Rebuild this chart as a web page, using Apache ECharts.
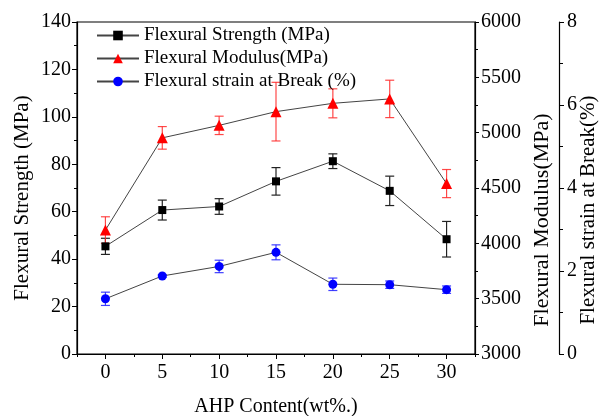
<!DOCTYPE html>
<html>
<head>
<meta charset="utf-8">
<script src="https://cdn.jsdelivr.net/npm/echarts@6/dist/echarts.min.js"></script>
<style>html,body{margin:0;padding:0;background:#fff;}#c{width:600px;height:416px;}</style>
</head>
<body>
<div id="c"></div>
<script>
const xValues = [0, 5, 10, 15, 20, 25, 30];
const xMajorTicks = [0, 5, 10, 15, 20, 25, 30];
const xMinorTicks = [-2.5, 2.5, 7.5, 12.5, 17.5, 22.5, 27.5, 32.5];
const strength = [45.4, 60.7, 62.2, 72.8, 81.3, 68.8, 48.4];
const strengthErr = [3.4, 4.2, 3.3, 5.8, 3.1, 6.2, 7.5];
const modulus = [4120, 4953, 5066, 5190, 5265, 5305, 4540];
const modulusErr = [120, 102, 83, 265, 131, 169, 127];
const strain = [1.33, 1.88, 2.11, 2.45, 1.68, 1.67, 1.55];
const strainErr = [0.16, 0.03, 0.15, 0.18, 0.15, 0.09, 0.09];
const seriesNames = ['Flexural Strength (MPa)', 'Flexural Modulus(MPa)', 'Flexural strain at Break (%)'];

const FONT = "'Liberation Serif', 'Times New Roman', serif";
const chart = echarts.init(document.getElementById('c'), null, {renderer: 'canvas'});

function errBar(color) {
  return function (params, api) {
    const x = api.value(0);
    const p1 = api.coord([x, api.value(1)]);
    const p2 = api.coord([x, api.value(2)]);
    const w = 4.5;
    const st = {stroke: color, lineWidth: 1.2};
    return {type: 'group', children: [
      {type: 'line', shape: {x1: p1[0], y1: p1[1], x2: p2[0], y2: p2[1]}, style: st},
      {type: 'line', shape: {x1: p1[0] - w, y1: p1[1], x2: p1[0] + w, y2: p1[1]}, style: st},
      {type: 'line', shape: {x1: p2[0] - w, y1: p2[1], x2: p2[0] + w, y2: p2[1]}, style: st}
    ]};
  };
}
function errData(vals, errs) { return xValues.map((x, i) => [x, vals[i] - errs[i], vals[i] + errs[i]]); }
function pts(vals) { return xValues.map((x, i) => [x, vals[i]]); }
const plain = v => String(v);

const axisLine = {show: true, onZero: false, lineStyle: {color: '#000', width: 1.2}};
function lbl(extra) { return Object.assign({color: '#000', fontFamily: FONT, fontSize: 20, formatter: plain}, extra); }
function nm(size, shift) { return {color: '#000', fontFamily: FONT, fontSize: size, padding: [0, shift, 0, 0]}; }

const option = {
  animation: false,
  backgroundColor: '#fff',
  grid: {left: 77, right: 125, top: 22, bottom: 62, show: true, borderColor: '#000', borderWidth: 1.2,
         containLabel: false, outerBoundsMode: 'none'},
  legend: {
    orient: 'vertical', left: 91, top: 21, itemWidth: 42, itemHeight: 12, itemGap: 4,
    textStyle: {color: '#000', fontFamily: FONT, fontSize: 19},
    data: seriesNames
  },
  xAxis: [
    {type: 'value', min: -2.5, max: 32.5, position: 'bottom',
     name: 'AHP Content(wt%.)', nameLocation: 'middle', nameGap: 43, nameTextStyle: nm(20, 0),
     axisLine: axisLine, splitLine: {show: false},
     axisTick: {show: true, length: 5, inside: false, customValues: xMajorTicks, lineStyle: {color: '#000'}},
     axisLabel: lbl({margin: 9, customValues: xMajorTicks})},
    {type: 'value', min: -2.5, max: 32.5, position: 'bottom',
     axisLine: {show: false, onZero: false}, splitLine: {show: false},
     axisTick: {show: true, length: 3, customValues: xMinorTicks, lineStyle: {color: '#000'}},
     axisLabel: {show: false}}
  ],
  yAxis: [
    {type: 'value', min: 0, max: 140, interval: 20, position: 'left',
     name: 'Flexural Strength (MPa)', nameLocation: 'middle', nameGap: 44, nameRotate: 90, nameTextStyle: nm(21, 20),
     nameMoveOverlap: false,
     axisLine: axisLine, splitLine: {show: false},
     axisTick: {show: true, length: 5, lineStyle: {color: '#000'}},
     minorTick: {show: true, splitNumber: 2, length: 3, lineStyle: {color: '#000'}},
     axisLabel: lbl({margin: 6})},
    {type: 'value', min: 3000, max: 6000, interval: 500, position: 'right', offset: 0,
     name: 'Flexural Modulus(MPa)', nameLocation: 'middle', nameGap: 56, nameRotate: 90, nameTextStyle: nm(22, 64),
     nameMoveOverlap: false,
     axisLine: axisLine, splitLine: {show: false},
     axisTick: {show: true, length: 4, lineStyle: {color: '#000'}},
     minorTick: {show: true, splitNumber: 2, length: 3, lineStyle: {color: '#000'}},
     axisLabel: lbl({margin: 6})},
    {type: 'value', min: 0, max: 8, interval: 2, position: 'right', offset: 84,
     name: 'Flexural strain at Break(%)', nameLocation: 'middle', nameGap: 19, nameRotate: 90, nameTextStyle: nm(21, 44),
     nameMoveOverlap: false,
     axisLine: axisLine, splitLine: {show: false},
     axisTick: {show: true, length: 5, lineStyle: {color: '#000'}},
     minorTick: {show: true, splitNumber: 2, length: 4, lineStyle: {color: '#000'}},
     axisLabel: lbl({margin: 8})}
  ],
  series: [
    {type: 'custom', name: 'errS', xAxisIndex: 0, yAxisIndex: 0, z: 1, renderItem: errBar('#222'), encode: {x: 0, y: [1, 2]}, data: errData(strength, strengthErr), silent: true},
    {type: 'custom', name: 'errM', xAxisIndex: 0, yAxisIndex: 1, z: 1, renderItem: errBar('rgba(255,40,40,0.85)'), encode: {x: 0, y: [1, 2]}, data: errData(modulus, modulusErr), silent: true},
    {type: 'custom', name: 'errE', xAxisIndex: 0, yAxisIndex: 2, z: 1, renderItem: errBar('rgba(30,30,255,0.85)'), encode: {x: 0, y: [1, 2]}, data: errData(strain, strainErr), silent: true},
    {type: 'line', name: seriesNames[0], xAxisIndex: 0, yAxisIndex: 0, z: 3, data: pts(strength),
     symbol: 'rect', symbolSize: 8, showAllSymbol: true,
     lineStyle: {color: '#444', width: 1}, itemStyle: {color: '#000'}},
    {type: 'line', name: seriesNames[1], xAxisIndex: 0, yAxisIndex: 1, z: 3, data: pts(modulus),
     symbol: 'triangle', symbolSize: 11, showAllSymbol: true,
     lineStyle: {color: '#444', width: 1}, itemStyle: {color: '#ff0000'}},
    {type: 'line', name: seriesNames[2], xAxisIndex: 0, yAxisIndex: 2, z: 3, data: pts(strain),
     symbol: 'circle', symbolSize: 9, showAllSymbol: true,
     lineStyle: {color: '#444', width: 1}, itemStyle: {color: '#0000ff'}}
  ]
};
chart.setOption(option);
</script>
</body>
</html>
